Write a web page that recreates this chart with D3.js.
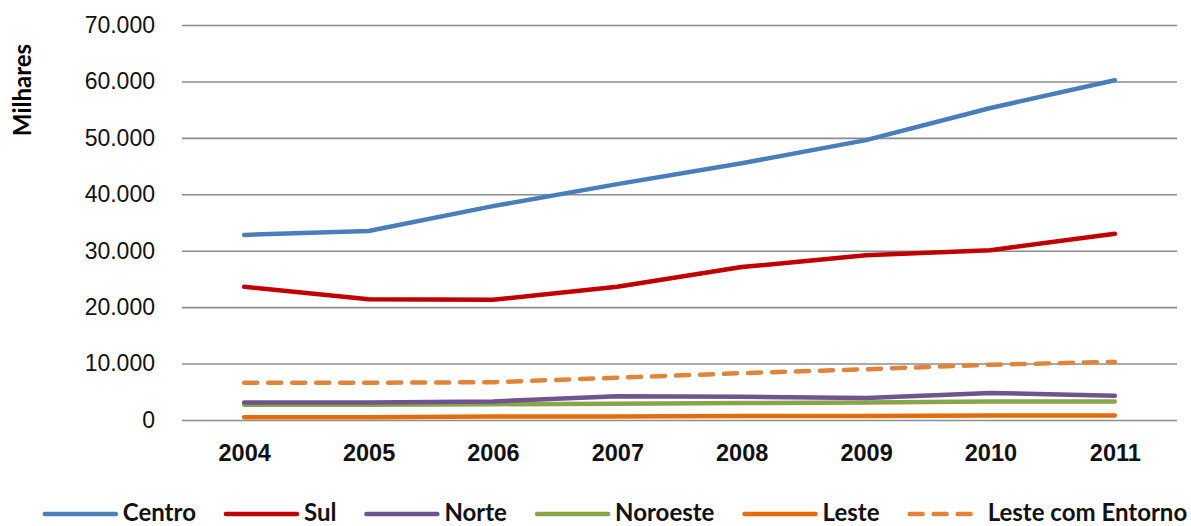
<!DOCTYPE html>
<html>

<head>
    <meta charset="utf-8">
    <style>
        body {
            margin: 0;
            background: #fff;
        }

        svg {
            display: block;
            font-family: Lato, 'Open Sans', sans-serif;
        }

        .y .domain,
        .x .domain {
            display: none;
        }

        .y .tick line {
            stroke: #8c8c8c;
            stroke-width: 1.6;
        }

        .y .tick text {
            font-size: 23px;
            fill: #111;
        }

        .x .tick line {
            display: none;
        }

        .x .tick text {
            font-size: 23.5px;
            font-weight: bold;
            fill: #111;
        }

        .serie {
            fill: none;
            stroke-width: 4.5;
            stroke-linecap: round;
            stroke-linejoin: round;
        }

        .legend text {
            font-size: 24px;
            font-weight: bold;
            fill: #111;
        }
    </style>
</head>

<body>
    <svg width="1191" height="526"></svg>

    <script src="https://d3js.org/d3.v7.min.js"></script>
    <script>
        // dados (milhares)
        let anos = ["2004", "2005", "2006", "2007", "2008", "2009", "2010", "2011"];
        let centro = [32800, 33500, 37900, 41800, 45500, 49600, 55300, 60200];
        let sul = [23600, 21400, 21300, 23600, 27100, 29200, 30100, 33000];
        let norte = [3100, 3100, 3300, 4200, 4100, 3900, 4800, 4300];
        let noroeste = [2700, 2700, 2800, 2900, 3000, 3100, 3300, 3300];
        let leste = [500, 500, 600, 600, 700, 700, 800, 800];
        let lesteEntorno = [6600, 6600, 6700, 7500, 8300, 9000, 9800, 10300];
        let yTicks = [0, 10000, 20000, 30000, 40000, 50000, 60000, 70000];

        let series = [
            { nome: "Centro", valores: centro, cor: "#4a7ebb", tracejado: false },
            { nome: "Sul", valores: sul, cor: "#c00000", tracejado: false },
            { nome: "Norte", valores: norte, cor: "#6f548f", tracejado: false },
            { nome: "Noroeste", valores: noroeste, cor: "#89a54a", tracejado: false },
            { nome: "Leste", valores: leste, cor: "#e46c0a", tracejado: false },
            { nome: "Leste com Entorno", valores: lesteEntorno, cor: "#e0843c", tracejado: true }
        ];

        let svg = d3.select("svg");
        let margin = { top: 25, right: 14, bottom: 106, left: 182 };
        let width = 1191, height = 526;

        let xScale = d3.scalePoint()
            .domain(anos)
            .range([margin.left, width - margin.right])
            .padding(0.5);

        let yScale = d3.scaleLinear()
            .domain([0, 70000])
            .range([height - margin.bottom, margin.top]);

        // formato pt-BR: 10.000
        let fmt = d => d === 0 ? "0" : d3.format(",")(d).replace(/,/g, ".");

        svg.append("g")
            .attr("class", "y axis")
            .attr("transform", `translate(${margin.left},0)`)
            .call(d3.axisLeft(yScale)
                .tickValues(yTicks)
                .tickSize(-(width - margin.left - margin.right))
                .tickPadding(27)
                .tickFormat(fmt));

        svg.append("g")
            .attr("class", "x axis")
            .attr("transform", `translate(0,${height - margin.bottom})`)
            .call(d3.axisBottom(xScale).tickSize(0).tickPadding(24));

        svg.append("text")
            .attr("transform", `translate(31,${(40 + 140) / 2}) rotate(-90)`)
            .attr("text-anchor", "middle")
            .style("font-size", "24px")
            .style("font-weight", "bold")
            .text("Milhares");

        let line = d3.line()
            .x((d, i) => xScale(anos[i]))
            .y(d => yScale(d));

        // desenha de baixo para cima como no original
        svg.selectAll("path.serie")
            .data(series.slice().reverse())
            .enter().append("path")
            .attr("class", "serie")
            .attr("stroke", d => d.cor)
            .attr("stroke-dasharray", d => d.tracejado ? "13,11" : null)
            .attr("d", d => line(d.valores));

        // legenda
        let leg = svg.append("g").attr("class", "legend");
        let itens = leg.selectAll("g")
            .data(series)
            .enter().append("g");

        itens.append("line")
            .attr("x1", 0)
            .attr("x2", d => d.tracejado ? 65 : 71)
            .attr("y1", 0)
            .attr("y2", 0)
            .attr("stroke", d => d.cor)
            .attr("stroke-width", 4.5)
            .attr("stroke-linecap", "round")
            .attr("stroke-dasharray", d => d.tracejado ? "13,11" : null);

        itens.append("text")
            .attr("x", d => d.tracejado ? 78 : 78)
            .attr("y", 7)
            .text(d => d.nome);

        // posiciona itens em sequencia e centraliza
        let gap = 30;
        let pos = 0, posicoes = [];
        itens.each(function () {
            posicoes.push(pos);
            pos += this.getBBox().width + gap;
        });
        let total = pos - gap;
        let inicio = 616 - total / 2;
        itens.attr("transform", (d, i) => `translate(${inicio + posicoes[i]},514)`);
    </script>
</body>

</html>
